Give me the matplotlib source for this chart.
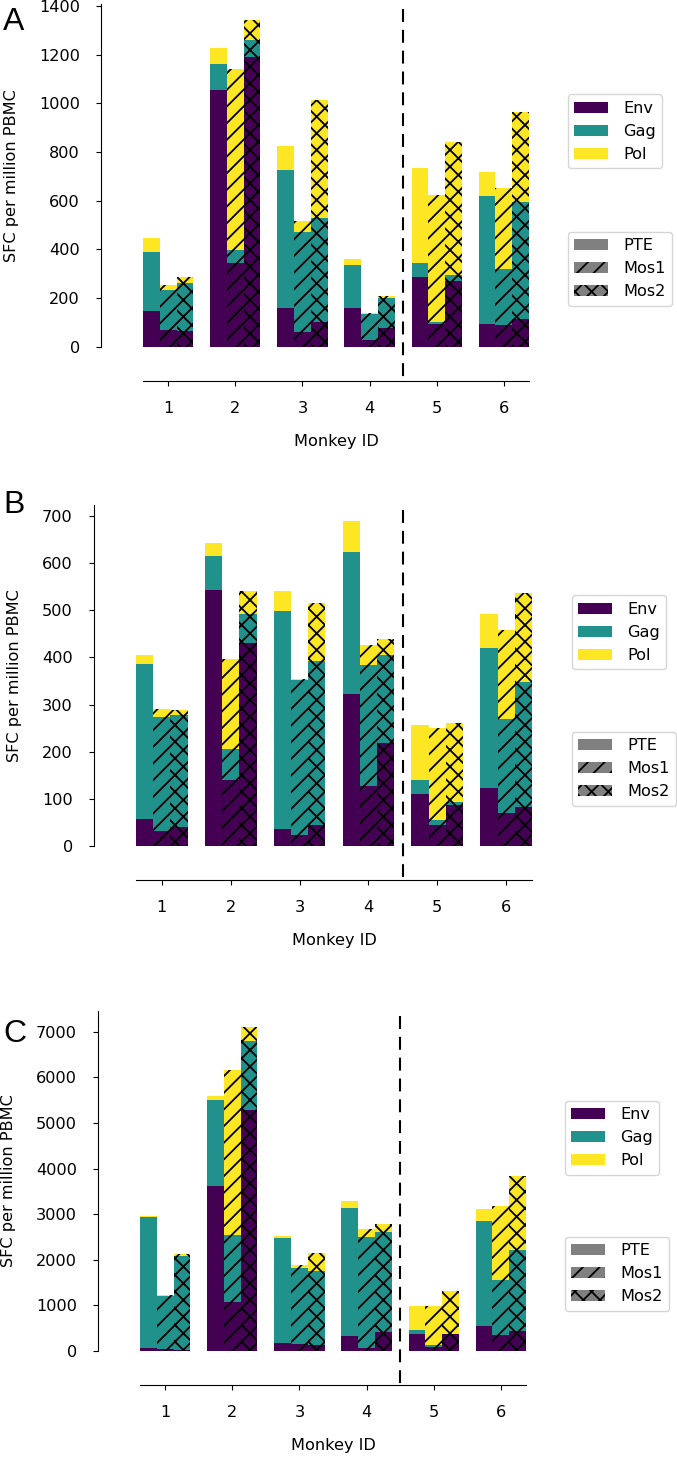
"""
Stacked ELISpot responses (Env / Gag / Pol) per monkey for PTE, Mos1 and Mos2
peptide pools, three panels.
"""
import numpy as np
import matplotlib
matplotlib.use("Agg")
from matplotlib import pyplot as plt
from matplotlib.patches import Patch

plt.rcParams['font.family'] = ['DejaVu Sans']
plt.rcParams['font.size'] = 11.6
plt.rcParams['hatch.linewidth'] = 1.3

monkeys = [1, 2, 3, 4, 5, 6]
proteins = ['Env', 'Gag', 'Pol']
pools = ['PTE', 'Mos1', 'Mos2']
colors = {'Env': '#440154', 'Gag': '#21918c', 'Pol': '#fde725'}
hatches = {'PTE': '', 'Mos1': '//', 'Mos2': 'xx'}

# panel A, SFC per million PBMC
a_pte_env = [147, 1055, 158, 158, 286, 93]
a_pte_gag = [243, 105, 568, 178, 59, 528]
a_pte_pol = [57, 68, 99, 26, 388, 97]
a_mos1_env = [68, 344, 62, 29, 93, 90]
a_mos1_gag = [165, 53, 408, 104, 8, 231]
a_mos1_pol = [20, 744, 46, 7, 522, 332]
a_mos2_env = [66, 1192, 100, 77, 270, 112]
a_mos2_gag = [197, 68, 430, 122, 25, 481]
a_mos2_pol = [23, 83, 484, 9, 548, 371]

# panel B
b_pte_env = [57, 543, 37, 322, 110, 122]
b_pte_gag = [330, 72, 461, 302, 30, 298]
b_pte_pol = [19, 28, 43, 65, 117, 72]
b_mos1_env = [32, 139, 24, 127, 44, 71]
b_mos1_gag = [242, 66, 328, 258, 12, 199]
b_mos1_pol = [16, 192, 3, 41, 194, 188]
b_mos2_env = [41, 431, 44, 219, 87, 83]
b_mos2_gag = [236, 62, 349, 187, 7, 265]
b_mos2_pol = [11, 48, 123, 34, 168, 188]

# panel C
c_pte_env = [73, 3624, 183, 336, 380, 555]
c_pte_gag = [2864, 1871, 2287, 2791, 73, 2302]
c_pte_pol = [30, 102, 51, 168, 541, 248]
c_mos1_env = [44, 1081, 160, 73, 95, 351]
c_mos1_gag = [1169, 1454, 1652, 2433, 44, 1205]
c_mos1_pol = [22, 3625, 66, 176, 855, 1622]
c_mos2_env = [15, 5276, 131, 424, 380, 438]
c_mos2_gag = [2075, 1527, 1630, 2192, 0, 1776]
c_mos2_pol = [29, 307, 387, 175, 928, 1629]

panels = [
    ('A', {'PTE': [a_pte_env, a_pte_gag, a_pte_pol],
           'Mos1': [a_mos1_env, a_mos1_gag, a_mos1_pol],
           'Mos2': [a_mos2_env, a_mos2_gag, a_mos2_pol]}),
    ('B', {'PTE': [b_pte_env, b_pte_gag, b_pte_pol],
           'Mos1': [b_mos1_env, b_mos1_gag, b_mos1_pol],
           'Mos2': [b_mos2_env, b_mos2_gag, b_mos2_pol]}),
    ('C', {'PTE': [c_pte_env, c_pte_gag, c_pte_pol],
           'Mos1': [c_mos1_env, c_mos1_gag, c_mos1_pol],
           'Mos2': [c_mos2_env, c_mos2_gag, c_mos2_pol]}),
]

W, H = 677, 1459
# axes boxes in pixels: left, top, right, bottom
boxes = [(143, 3.5, 529, 346.7), (136, 505, 532, 846), (140, 1010.5, 526, 1351)]
ylabel_right = [19, 22, 16]
letter_base = [30, 513, 1042]

fig = plt.figure(figsize=(W / 100, H / 100), dpi=100)

offsets = {'PTE': -0.25, 'Mos1': 0.0, 'Mos2': 0.25}
width = 0.25
x = np.array(monkeys, dtype=float)

for (letter, data), box, ylx, lb in zip(panels, boxes, ylabel_right, letter_base):
    l, t, r, b = box
    ax = fig.add_axes([l / W, 1 - b / H, (r - l) / W, (b - t) / H])
    for pool in pools:
        bottom = np.zeros(len(monkeys))
        for prot, vals in zip(proteins, data[pool]):
            vals = np.array(vals, dtype=float)
            ax.bar(x + offsets[pool], vals, width, bottom=bottom,
                   color=colors[prot], edgecolor='black', linewidth=0,
                   hatch=hatches[pool])
            bottom += vals

    ax.set_xlim(0.625, 6.375)
    ax.set_xticks(monkeys)
    # dashed separator, running from near the top down to the offset x spine
    ax.plot([4.5, 4.5], [0.985, -0.1], transform=ax.get_xaxis_transform(),
            color='black', lw=1.5, ls=(0, (6.2, 3.8)), clip_on=False)

    for s in ['top', 'right']:
        ax.spines[s].set_visible(False)
    ax.spines['left'].set_position(('outward', 30))
    ax.spines['bottom'].set_position(('outward', 24.5))
    ax.tick_params(axis='x', pad=11)
    ax.tick_params(axis='y', pad=12)

    ax.set_ylabel('SFC per million PBMC')
    ax.yaxis.set_label_coords((ylx - l) / (r - l), 0.5)
    ax.set_xlabel('Monkey ID')
    ax.xaxis.set_label_coords(0.5, -0.255)

    h1 = [Patch(facecolor=colors[p], label=p) for p in proteins]
    leg1 = ax.legend(handles=h1, loc='upper left', bbox_to_anchor=(1.1, 0.735),
                     borderaxespad=0, handlelength=2.1, handletextpad=0.95)
    ax.add_artist(leg1)
    h2 = [Patch(facecolor='#808080', edgecolor='black', linewidth=0,
                hatch=hatches[p], label=p) for p in pools]
    ax.legend(handles=h2, loc='upper left', bbox_to_anchor=(1.1, 0.335),
              borderaxespad=0, handlelength=2.1, handletextpad=0.95)

    fig.text(3 / W, 1 - lb / H, letter, fontsize=23, family='Liberation Sans',
             ha='left', va='baseline')

fig.savefig('out.png', dpi=100)
